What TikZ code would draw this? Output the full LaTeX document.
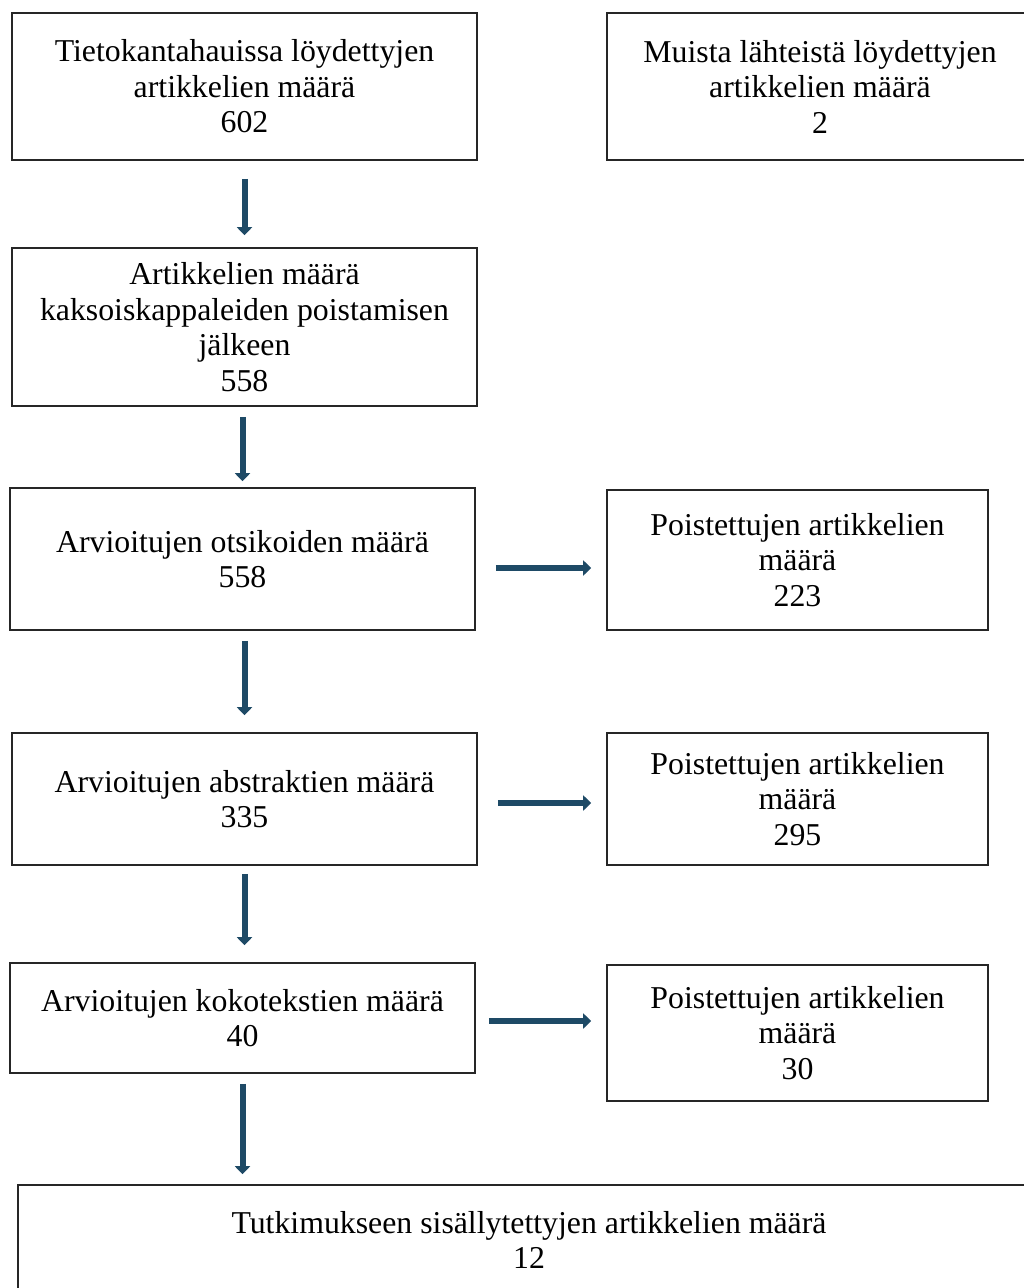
\documentclass[tikz,border=0pt]{standalone}
\usepackage{fontspec}
\setmainfont{Liberation Serif}
\usetikzlibrary{arrows.meta,calc}
\definecolor{flowblue}{HTML}{1E4A66}
\tikzset{
  box/.style={draw=black!85, line width=1.6pt, align=center, inner sep=0pt,
    font=\fontsize{31.8}{35.5}\selectfont},
  flow/.style={draw=flowblue, line width=6pt,
    -{Triangle[length=8pt,width=15pt]}, shorten <=10pt, shorten >=12pt},
}
\begin{document}
\begin{tikzpicture}[x=1pt,y=-1pt]
	\clip (0,0) rectangle (1024,1288);
	% vasen sarake
	\node[box, minimum width=465, minimum height=147] (haku) at (244.5,86.5)
		{Tietokantahauissa löydettyjen\\artikkelien määrä\\602};
	\node[box, minimum width=465, minimum height=158] (kaksois) at (244.5,327)
		{Artikkelien määrä\\kaksoiskappaleiden poistamisen\\jälkeen\\558};
	\node[box, minimum width=465, minimum height=142] (otsik) at (242.5,559)
		{Arvioitujen otsikoiden määrä\\558};
	\node[box, minimum width=465, minimum height=132] (abstr) at (244.5,799)
		{Arvioitujen abstraktien määrä\\335};
	\node[box, minimum width=465, minimum height=110] (kokot) at (242.5,1018)
		{Arvioitujen kokotekstien määrä\\40};
	% oikea sarake
	\node[box, minimum width=426, minimum height=147] (muut) at (820,86.5)
		{Muista lähteistä löydettyjen\\artikkelien määrä\\2};
	\node[box, minimum width=381, minimum height=140] (poist1) at (797.5,560)
		{Poistettujen artikkelien\\määrä\\223};
	\node[box, minimum width=381, minimum height=132] (poist2) at (797.5,799)
		{Poistettujen artikkelien\\määrä\\295};
	\node[box, minimum width=381, minimum height=136] (poist3) at (797.5,1033)
		{Poistettujen artikkelien\\määrä\\30};
	% lopputulos
	\node[box, minimum width=1022, minimum height=110] (tulos) at (529,1240)
		{Tutkimukseen sisällytettyjen artikkelien määrä\\12};
	% nuolet alas
	\draw[flow, shorten <=18pt] (haku) -- (kaksois);
	\draw[flow, shorten >=6pt] (kaksois.south -| otsik.south) -- (otsik);
	\draw[flow, shorten >=17pt] (otsik.south -| abstr.south) -- (abstr);
	\draw[flow, shorten <=8pt, shorten >=17pt] (abstr) -- (kokot.north -| abstr.north);
	\draw[flow, shorten >=10pt] (kokot.south) -- (kokot.south |- tulos.north);
	% nuolet oikealle
	\draw[flow, shorten <=20pt, shorten >=15pt] ($(otsik.east)+(0,9)$) -- ($(otsik.east -| poist1.west)+(0,9)$);
	\draw[flow, shorten <=20pt, shorten >=15pt] ($(abstr.east)+(0,4)$) -- ($(abstr.east -| poist2.west)+(0,4)$);
	\draw[flow, shorten <=13pt, shorten >=15pt] ($(kokot.east)+(0,3)$) -- ($(kokot.east -| poist3.west)+(0,3)$);
\end{tikzpicture}
\end{document}
